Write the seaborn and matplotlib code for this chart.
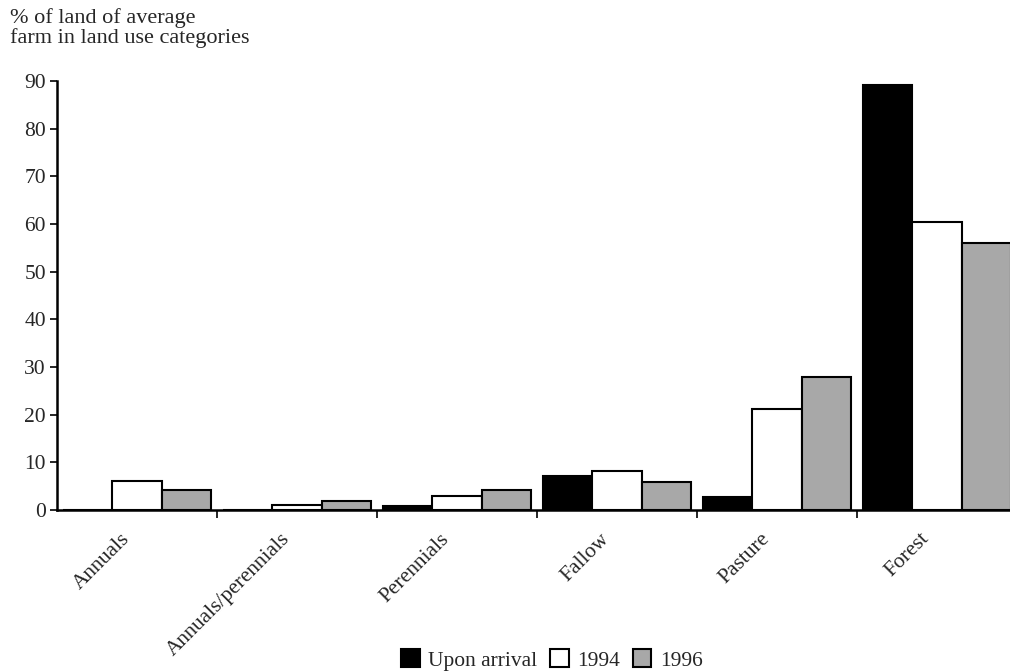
import pandas as pd
import matplotlib
matplotlib.use('Agg')
import matplotlib.pyplot as plt
import matplotlib.transforms as mtransforms
import seaborn as sns

# values (% of land of average farm)
categories = ['Annuals', 'Annuals/perennials', 'Perennials', 'Fallow', 'Pasture', 'Forest']
periods = ['Upon arrival', '1994', '1996']
upon_arrival = [0.0, 0.0, 0.8, 7.1, 2.7, 89.2]
y1994 = [6.0, 1.0, 2.9, 8.1, 21.2, 60.5]
y1996 = [4.1, 1.9, 4.2, 5.9, 28.0, 56.0]

rows = []
for p, vals in zip(periods, [upon_arrival, y1994, y1996]):
    for c, v in zip(categories, vals):
        rows.append({'Category': c, 'Period': p, 'Value': v})
df = pd.DataFrame(rows)

sns.set_style('white')
plt.rcParams['font.family'] = ['Liberation Serif', 'DejaVu Serif']

fig = plt.figure(figsize=(10.1, 6.72), dpi=100)
ax = fig.add_axes([57 / 1010, 162 / 672, 960 / 1010, 429 / 672])

palette = {'Upon arrival': 'black', '1994': 'white', '1996': '#a8a8a8'}
sns.barplot(data=df, x='Category', y='Value', hue='Period', order=categories,
            hue_order=periods, palette=palette, width=0.925, edgecolor='black',
            linewidth=1.5, saturation=1, ax=ax)

ax.set_xlim(-0.5, 5.5)
ax.set_ylim(0, 90)
ax.set_yticks(range(0, 91, 10))
ax.set_xlabel('')
ax.set_ylabel('')

for s in ['top', 'right']:
    ax.spines[s].set_visible(False)
for s in ['left', 'bottom']:
    ax.spines[s].set_linewidth(1.8)
    ax.spines[s].set_color('black')

ax.tick_params(axis='y', which='major', direction='out', length=5, width=1.4,
               labelsize=15.5, left=True, pad=3)
ax.set_xticks(range(len(categories)))
ax.set_xticklabels(categories, rotation=45, ha='right', rotation_mode='anchor')
ax.tick_params(axis='x', which='major', length=0, labelsize=15.5, pad=14)
ax.set_xticks([i + 0.5 for i in range(len(categories) - 1)], minor=True)
ax.tick_params(axis='x', which='minor', direction='out', length=6, width=1.4, bottom=True)
shift = mtransforms.ScaledTranslation(-17 / 100, 0, fig.dpi_scale_trans)
for lbl in ax.get_xticklabels():
    lbl.set_transform(lbl.get_transform() + shift)

fig.text(10 / 1010, 1 - 8 / 672, '% of land of average\nfarm in land use categories',
         ha='left', va='top', fontsize=16, linespacing=1.0)

handles, labels = ax.get_legend_handles_labels()
ax.legend_.remove()
fig.legend(handles, labels, loc='center', bbox_to_anchor=(552 / 1010, 1 - 660 / 672),
           ncol=3, frameon=False, fontsize=15.5, handlelength=0.85, handleheight=0.85,
           handletextpad=0.4, columnspacing=0.6, borderaxespad=0)

fig.savefig('out.png', dpi=100)
